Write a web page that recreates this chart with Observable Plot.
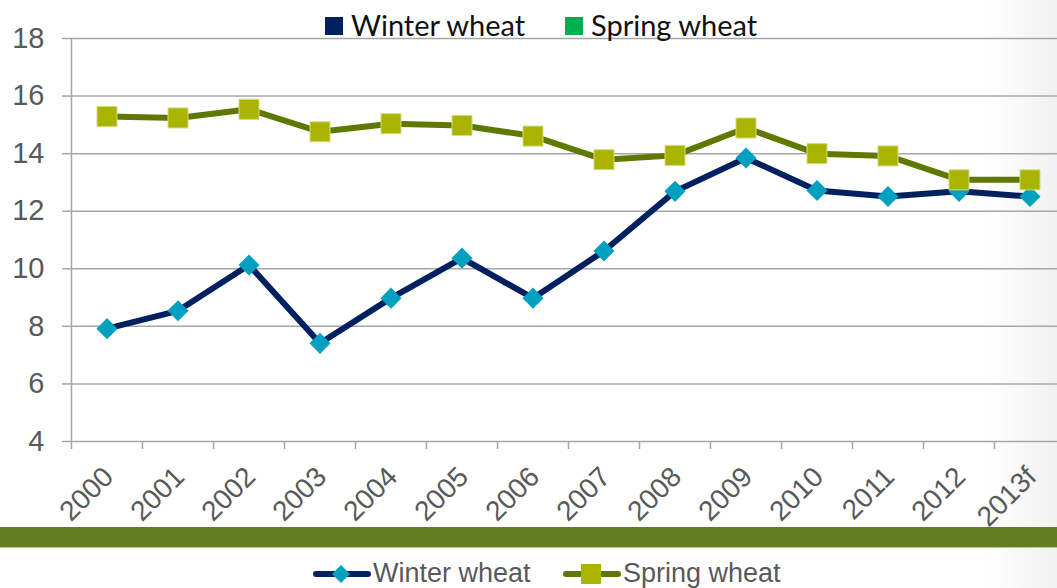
<!DOCTYPE html>
<html>
<head>
<meta charset="utf-8">
<script src="https://cdn.jsdelivr.net/npm/d3@7"></script>
<script src="https://cdn.jsdelivr.net/npm/@observablehq/plot@0.6"></script>
<style>
  html, body { margin: 0; padding: 0; background: #fff; }
  body { width: 1057px; height: 588px; position: relative; overflow: hidden;
         background: linear-gradient(to right, #ffffff 0px, #ffffff 985px, #f1f1f1 1057px); }
  #chart { position: absolute; left: 0; top: 0; }
  .toplegend { position: absolute; top: 7px; left: 0; height: 36px; font-family: Lato, "Open Sans", sans-serif;
               font-size: 29px; color: #111; }
  .toplegend .item { position: absolute; top: 0; display: flex; align-items: center; white-space: nowrap; }
  .toplegend .sw { width: 18px; height: 18px; margin-right: 8px; margin-top: 2px; }
  .band { position: absolute; left: 0; top: 527px; width: 1057px; height: 20px; background: #647d20;
          border-bottom: 1px solid #b9c98a; }
  .botlegend { position: absolute; top: 558px; left: 0; font-family: "Liberation Sans", Arial, sans-serif;
               font-size: 27px; color: #595959; }
  .botlegend .item { position: absolute; top: 0; display: flex; align-items: center; white-space: nowrap; }
  .botlegend svg { display: block; }
</style>
</head>
<body>
<div id="chart"></div>
<div class="band"></div>
<div class="toplegend" id="toplegend"></div>
<div class="botlegend" id="botlegend"></div>
<script>
const years = ["2000","2001","2002","2003","2004","2005","2006","2007","2008","2009","2010","2011","2012","2013f"];
const winterWheat = [7.92, 8.54, 10.13, 7.41, 8.98, 10.37, 8.98, 10.62, 12.69, 13.85, 12.72, 12.51, 12.69, 12.51];
const springWheat = [15.29, 15.24, 15.54, 14.76, 15.04, 14.98, 14.61, 13.79, 13.94, 14.89, 14.00, 13.92, 13.09, 13.09];
const yTicks = [4, 6, 8, 10, 12, 14, 16, 18];
const seriesNames = ["Winter wheat", "Spring wheat"];

const idx = (d, i) => i;
const boundaries = years.map((d, i) => i - 0.5).concat([years.length - 0.5]);

const chart = Plot.plot({
  width: 1057,
  height: 588,
  marginLeft: 71,
  marginRight: 0,
  marginTop: 38,
  marginBottom: 147,
  style: { background: "transparent", fontFamily: "'Liberation Sans', Arial, sans-serif", overflow: "hidden" },
  x: { domain: [-0.5, years.length - 0.5], range: [71, 71 + 71 * years.length], axis: null },
  y: { domain: [4, 18], axis: null },
  marks: [
    Plot.ruleY(yTicks, { stroke: "#a6a6a6", strokeWidth: 1.5 }),
    Plot.ruleX([-0.5], { stroke: "#a6a6a6", strokeWidth: 1.5 }),
    Plot.axisY({ ticks: yTicks, tickSize: 9, tickPadding: 18, fontSize: 29, stroke: "#a6a6a6", strokeWidth: 1.5, fill: "#595959", tickFormat: d => String(d) }),
    Plot.axisX({ ticks: boundaries, tickSize: 8, stroke: "#a6a6a6", strokeWidth: 1.5, tickFormat: () => "" }),
    Plot.text(years, { x: idx, frameAnchor: "bottom", text: d => d, rotate: -45, textAnchor: "end", lineAnchor: "bottom",
                       dx: 8, dy: 37, fontSize: 28, fill: "#595959" }),
    Plot.line(winterWheat, { x: idx, y: d => d, stroke: "#002060", strokeWidth: 6, strokeLinejoin: "round" }),
    Plot.dot(winterWheat, { x: idx, y: d => d, symbol: "diamond2", r: 9.5, fill: "#00a0c0", stroke: null }),
    Plot.line(springWheat, { x: idx, y: d => d, stroke: "#5f7800", strokeWidth: 6, strokeLinejoin: "round" }),
    Plot.dot(springWheat, { x: idx, y: d => d, symbol: "square", r: 11.3, fill: "#a9b400", stroke: "#d3da80", strokeWidth: 1 })
  ]
});
document.getElementById("chart").appendChild(chart);

// top legend (square swatches)
const topColors = ["#002060", "#00b050"];
const topLefts = [325, 565];
const tl = document.getElementById("toplegend");
seriesNames.forEach((name, i) => {
  const it = document.createElement("div");
  it.className = "item";
  it.style.left = topLefts[i] + "px";
  it.innerHTML = `<div class="sw" style="background:${topColors[i]}"></div><span>${name}</span>`;
  tl.appendChild(it);
});

// bottom legend (line + marker)
const botLefts = [313, 563];
const lineColors = ["#002060", "#5f7800"];
const markColors = ["#00a0c0", "#a9b400"];
const bl = document.getElementById("botlegend");
seriesNames.forEach((name, i) => {
  const it = document.createElement("div");
  it.className = "item";
  it.style.left = botLefts[i] + "px";
  const marker = i === 0
    ? `<path d="M28,4 L37,13 L28,22 L19,13 Z" fill="${markColors[i]}"/>`
    : `<rect x="18" y="3" width="20" height="20" fill="${markColors[i]}"/>`;
  it.innerHTML = `<svg width="58" height="26"><line x1="3" y1="13" x2="55" y2="13" stroke="${lineColors[i]}" stroke-width="6" stroke-linecap="round"/>${marker}</svg><span style="margin-left:2px">${name}</span>`;
  bl.appendChild(it);
});
</script>
</body>
</html>
